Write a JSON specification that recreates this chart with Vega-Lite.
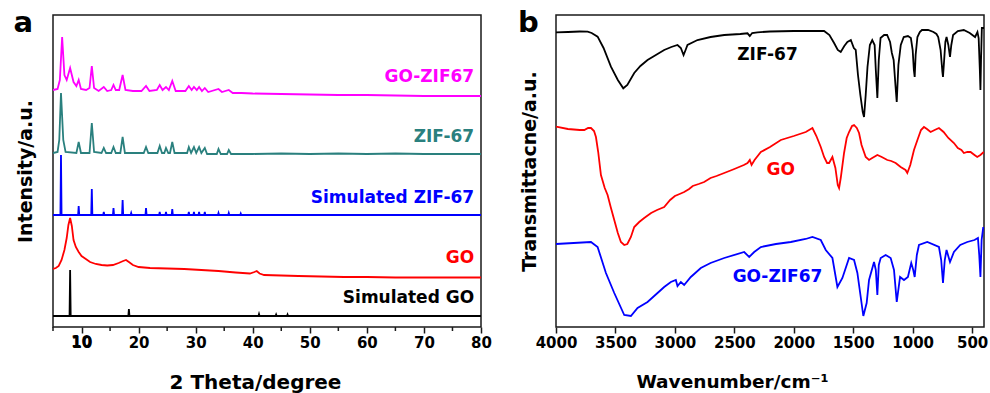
{
  "$schema": "https://vega.github.io/schema/vega-lite/v6.json",
  "background": "white",
  "padding": {"left": 12, "top": 8, "right": 0, "bottom": 0},
  "bounds": "flush",
  "spacing": 75,
  "resolve": {"scale": {"x": "independent", "y": "independent", "color": "independent"}},
  "config": {
    "view": {"stroke": "#1a1a1a", "strokeWidth": 1.5},
    "axis": {"grid": false, "domain": false, "labelFont": "DejaVu Sans", "labelFontWeight": "bold", "labelFontSize": 15, "labelColor": "#000", "titleFont": "DejaVu Sans", "titleFontWeight": "bold", "titleFontSize": 20, "titleColor": "#000", "tickColor": "#1a1a1a", "tickWidth": 1.5, "labelFlush": false, "labelOverlap": false},
    "text": {"font": "DejaVu Sans", "fontWeight": "bold"}
  },
  "datasets": {
    "xrd": [
      {"sample":"GO-ZIF67","t":5.0,"i":237},{"sample":"GO-ZIF67","t":5.8,"i":238},{"sample":"GO-ZIF67","t":6.2,"i":247},{"sample":"GO-ZIF67","t":6.6,"i":290},{"sample":"GO-ZIF67","t":7.0,"i":252},{"sample":"GO-ZIF67","t":7.4,"i":247},{"sample":"GO-ZIF67","t":8.0,"i":259},{"sample":"GO-ZIF67","t":8.6,"i":245},{"sample":"GO-ZIF67","t":9.1,"i":241},{"sample":"GO-ZIF67","t":9.5,"i":247},{"sample":"GO-ZIF67","t":9.9,"i":238},{"sample":"GO-ZIF67","t":10.8,"i":237},{"sample":"GO-ZIF67","t":11.4,"i":239},{"sample":"GO-ZIF67","t":11.8,"i":261},{"sample":"GO-ZIF67","t":12.2,"i":239},{"sample":"GO-ZIF67","t":13.0,"i":236},{"sample":"GO-ZIF67","t":13.9,"i":240},{"sample":"GO-ZIF67","t":14.5,"i":236},{"sample":"GO-ZIF67","t":15.2,"i":237},{"sample":"GO-ZIF67","t":15.6,"i":242},{"sample":"GO-ZIF67","t":16.0,"i":237},{"sample":"GO-ZIF67","t":16.6,"i":237},{"sample":"GO-ZIF67","t":17.2,"i":252},{"sample":"GO-ZIF67","t":17.7,"i":237},{"sample":"GO-ZIF67","t":19.0,"i":236},{"sample":"GO-ZIF67","t":20.5,"i":236},{"sample":"GO-ZIF67","t":21.3,"i":241},{"sample":"GO-ZIF67","t":21.9,"i":236},{"sample":"GO-ZIF67","t":23.2,"i":237},{"sample":"GO-ZIF67","t":23.7,"i":242},{"sample":"GO-ZIF67","t":24.2,"i":237},{"sample":"GO-ZIF67","t":24.8,"i":240},{"sample":"GO-ZIF67","t":25.3,"i":237},{"sample":"GO-ZIF67","t":25.9,"i":246},{"sample":"GO-ZIF67","t":26.5,"i":236},{"sample":"GO-ZIF67","t":28.2,"i":236},{"sample":"GO-ZIF67","t":28.8,"i":241},{"sample":"GO-ZIF67","t":29.3,"i":237},{"sample":"GO-ZIF67","t":29.7,"i":240},{"sample":"GO-ZIF67","t":30.2,"i":237},{"sample":"GO-ZIF67","t":30.6,"i":240},{"sample":"GO-ZIF67","t":31.1,"i":236},{"sample":"GO-ZIF67","t":31.6,"i":239},{"sample":"GO-ZIF67","t":32.2,"i":235},{"sample":"GO-ZIF67","t":34.0,"i":238},{"sample":"GO-ZIF67","t":34.6,"i":235},{"sample":"GO-ZIF67","t":35.8,"i":237},{"sample":"GO-ZIF67","t":36.5,"i":234},{"sample":"GO-ZIF67","t":38,"i":234},{"sample":"GO-ZIF67","t":40,"i":233.5},{"sample":"GO-ZIF67","t":45,"i":233},{"sample":"GO-ZIF67","t":50,"i":232.5},{"sample":"GO-ZIF67","t":55,"i":232},{"sample":"GO-ZIF67","t":60,"i":232},{"sample":"GO-ZIF67","t":65,"i":231.5},{"sample":"GO-ZIF67","t":70,"i":231},{"sample":"GO-ZIF67","t":75,"i":231},{"sample":"GO-ZIF67","t":80,"i":231},
      {"sample":"ZIF-67","t":5.0,"i":174},{"sample":"ZIF-67","t":5.8,"i":175},{"sample":"ZIF-67","t":6.1,"i":187},{"sample":"ZIF-67","t":6.4,"i":234},{"sample":"ZIF-67","t":6.8,"i":187},{"sample":"ZIF-67","t":7.2,"i":175},{"sample":"ZIF-67","t":9.1,"i":174},{"sample":"ZIF-67","t":9.5,"i":185},{"sample":"ZIF-67","t":9.9,"i":174},{"sample":"ZIF-67","t":11.4,"i":174},{"sample":"ZIF-67","t":11.8,"i":204},{"sample":"ZIF-67","t":12.2,"i":175},{"sample":"ZIF-67","t":13.5,"i":174},{"sample":"ZIF-67","t":13.9,"i":179},{"sample":"ZIF-67","t":14.3,"i":174},{"sample":"ZIF-67","t":15.2,"i":174},{"sample":"ZIF-67","t":15.6,"i":180},{"sample":"ZIF-67","t":16.0,"i":174},{"sample":"ZIF-67","t":16.8,"i":174},{"sample":"ZIF-67","t":17.2,"i":190},{"sample":"ZIF-67","t":17.6,"i":174},{"sample":"ZIF-67","t":20.9,"i":174},{"sample":"ZIF-67","t":21.3,"i":180},{"sample":"ZIF-67","t":21.7,"i":174},{"sample":"ZIF-67","t":23.3,"i":174},{"sample":"ZIF-67","t":23.7,"i":181},{"sample":"ZIF-67","t":24.1,"i":174},{"sample":"ZIF-67","t":24.5,"i":174},{"sample":"ZIF-67","t":24.8,"i":179},{"sample":"ZIF-67","t":25.2,"i":174},{"sample":"ZIF-67","t":25.5,"i":174},{"sample":"ZIF-67","t":25.9,"i":185},{"sample":"ZIF-67","t":26.3,"i":174},{"sample":"ZIF-67","t":28.5,"i":174},{"sample":"ZIF-67","t":28.8,"i":180},{"sample":"ZIF-67","t":29.2,"i":174},{"sample":"ZIF-67","t":29.7,"i":180},{"sample":"ZIF-67","t":30.1,"i":174},{"sample":"ZIF-67","t":30.6,"i":180},{"sample":"ZIF-67","t":31.0,"i":174},{"sample":"ZIF-67","t":31.6,"i":179},{"sample":"ZIF-67","t":32.0,"i":173},{"sample":"ZIF-67","t":33.7,"i":173},{"sample":"ZIF-67","t":34.0,"i":178},{"sample":"ZIF-67","t":34.4,"i":173},{"sample":"ZIF-67","t":35.5,"i":173},{"sample":"ZIF-67","t":35.8,"i":177},{"sample":"ZIF-67","t":36.2,"i":173},{"sample":"ZIF-67","t":40,"i":173},{"sample":"ZIF-67","t":45,"i":173.5},{"sample":"ZIF-67","t":50,"i":173},{"sample":"ZIF-67","t":55,"i":173.5},{"sample":"ZIF-67","t":60,"i":173},{"sample":"ZIF-67","t":65,"i":173.5},{"sample":"ZIF-67","t":70,"i":173},{"sample":"ZIF-67","t":80,"i":173},
      {"sample":"Simulated ZIF-67","t":5.0,"i":112},{"sample":"Simulated ZIF-67","t":6.3,"i":112},{"sample":"Simulated ZIF-67","t":6.4,"i":172},{"sample":"Simulated ZIF-67","t":6.5,"i":112},{"sample":"Simulated ZIF-67","t":9.4,"i":112},{"sample":"Simulated ZIF-67","t":9.5,"i":121},{"sample":"Simulated ZIF-67","t":9.6,"i":112},{"sample":"Simulated ZIF-67","t":11.7,"i":112},{"sample":"Simulated ZIF-67","t":11.8,"i":138},{"sample":"Simulated ZIF-67","t":11.9,"i":112},{"sample":"Simulated ZIF-67","t":13.8,"i":112},{"sample":"Simulated ZIF-67","t":13.9,"i":115},{"sample":"Simulated ZIF-67","t":14.0,"i":112},{"sample":"Simulated ZIF-67","t":15.5,"i":112},{"sample":"Simulated ZIF-67","t":15.6,"i":119},{"sample":"Simulated ZIF-67","t":15.7,"i":112},{"sample":"Simulated ZIF-67","t":17.1,"i":112},{"sample":"Simulated ZIF-67","t":17.2,"i":127},{"sample":"Simulated ZIF-67","t":17.3,"i":112},{"sample":"Simulated ZIF-67","t":18.6,"i":112},{"sample":"Simulated ZIF-67","t":18.7,"i":114},{"sample":"Simulated ZIF-67","t":18.8,"i":112},{"sample":"Simulated ZIF-67","t":21.2,"i":112},{"sample":"Simulated ZIF-67","t":21.3,"i":119},{"sample":"Simulated ZIF-67","t":21.4,"i":112},{"sample":"Simulated ZIF-67","t":23.6,"i":112},{"sample":"Simulated ZIF-67","t":23.7,"i":115},{"sample":"Simulated ZIF-67","t":23.8,"i":112},{"sample":"Simulated ZIF-67","t":24.7,"i":112},{"sample":"Simulated ZIF-67","t":24.8,"i":115},{"sample":"Simulated ZIF-67","t":24.9,"i":112},{"sample":"Simulated ZIF-67","t":25.8,"i":112},{"sample":"Simulated ZIF-67","t":25.9,"i":118},{"sample":"Simulated ZIF-67","t":26.0,"i":112},{"sample":"Simulated ZIF-67","t":28.7,"i":112},{"sample":"Simulated ZIF-67","t":28.8,"i":115},{"sample":"Simulated ZIF-67","t":28.9,"i":112},{"sample":"Simulated ZIF-67","t":29.6,"i":112},{"sample":"Simulated ZIF-67","t":29.7,"i":115},{"sample":"Simulated ZIF-67","t":29.8,"i":112},{"sample":"Simulated ZIF-67","t":30.5,"i":112},{"sample":"Simulated ZIF-67","t":30.6,"i":115},{"sample":"Simulated ZIF-67","t":30.7,"i":112},{"sample":"Simulated ZIF-67","t":31.5,"i":112},{"sample":"Simulated ZIF-67","t":31.6,"i":115},{"sample":"Simulated ZIF-67","t":31.7,"i":112},{"sample":"Simulated ZIF-67","t":33.9,"i":112},{"sample":"Simulated ZIF-67","t":34.0,"i":114},{"sample":"Simulated ZIF-67","t":34.1,"i":112},{"sample":"Simulated ZIF-67","t":35.7,"i":112},{"sample":"Simulated ZIF-67","t":35.8,"i":114},{"sample":"Simulated ZIF-67","t":35.9,"i":112},{"sample":"Simulated ZIF-67","t":37.8,"i":112},{"sample":"Simulated ZIF-67","t":37.9,"i":113.5},{"sample":"Simulated ZIF-67","t":38.0,"i":112},{"sample":"Simulated ZIF-67","t":80,"i":112},
      {"sample":"GO","t":5.0,"i":58},{"sample":"GO","t":5.5,"i":59},{"sample":"GO","t":6.0,"i":61},{"sample":"GO","t":6.5,"i":67},{"sample":"GO","t":7.0,"i":77},{"sample":"GO","t":7.4,"i":89},{"sample":"GO","t":7.7,"i":102},{"sample":"GO","t":8.0,"i":109},{"sample":"GO","t":8.3,"i":101},{"sample":"GO","t":8.6,"i":87},{"sample":"GO","t":9.0,"i":80},{"sample":"GO","t":9.5,"i":75},{"sample":"GO","t":10.0,"i":71},{"sample":"GO","t":10.5,"i":69},{"sample":"GO","t":11.5,"i":65},{"sample":"GO","t":12.5,"i":63},{"sample":"GO","t":13.5,"i":62},{"sample":"GO","t":14.5,"i":61.5},{"sample":"GO","t":15.5,"i":62},{"sample":"GO","t":16.5,"i":64},{"sample":"GO","t":17.3,"i":66},{"sample":"GO","t":17.8,"i":67},{"sample":"GO","t":18.3,"i":65},{"sample":"GO","t":19.0,"i":62},{"sample":"GO","t":20,"i":60},{"sample":"GO","t":22,"i":59},{"sample":"GO","t":25,"i":58.5},{"sample":"GO","t":28,"i":58},{"sample":"GO","t":31,"i":57},{"sample":"GO","t":34,"i":56},{"sample":"GO","t":37,"i":54.5},{"sample":"GO","t":39.5,"i":53.5},{"sample":"GO","t":40.3,"i":55},{"sample":"GO","t":40.7,"i":56},{"sample":"GO","t":41.2,"i":53.5},{"sample":"GO","t":42,"i":52},{"sample":"GO","t":45,"i":51.5},{"sample":"GO","t":48,"i":51},{"sample":"GO","t":52,"i":50.5},{"sample":"GO","t":56,"i":50},{"sample":"GO","t":60,"i":50},{"sample":"GO","t":65,"i":49.5},{"sample":"GO","t":70,"i":49.5},{"sample":"GO","t":80,"i":49.5},
      {"sample":"Simulated GO","t":5.0,"i":11},{"sample":"Simulated GO","t":7.9,"i":11},{"sample":"Simulated GO","t":8.0,"i":57},{"sample":"Simulated GO","t":8.1,"i":11},{"sample":"Simulated GO","t":18.2,"i":11},{"sample":"Simulated GO","t":18.3,"i":18},{"sample":"Simulated GO","t":18.4,"i":11},{"sample":"Simulated GO","t":41.0,"i":11},{"sample":"Simulated GO","t":41.1,"i":13},{"sample":"Simulated GO","t":41.2,"i":11},{"sample":"Simulated GO","t":44.0,"i":11},{"sample":"Simulated GO","t":44.1,"i":12.5},{"sample":"Simulated GO","t":44.2,"i":11},{"sample":"Simulated GO","t":46.0,"i":11},{"sample":"Simulated GO","t":46.1,"i":12.5},{"sample":"Simulated GO","t":46.2,"i":11},{"sample":"Simulated GO","t":80,"i":11}
    ],
    "minorTicks": [{"t":5},{"t":15},{"t":25},{"t":35},{"t":45},{"t":55},{"t":65},{"t":75}],
    "ftir": [
      {"spectrum":"ZIF-67","w":4000,"T":294.7},{"spectrum":"ZIF-67","w":3900,"T":295},{"spectrum":"ZIF-67","w":3800,"T":295.5},{"spectrum":"ZIF-67","w":3734,"T":295.3},{"spectrum":"ZIF-67","w":3700,"T":294},{"spectrum":"ZIF-67","w":3650,"T":290.3},{"spectrum":"ZIF-67","w":3600,"T":279},{"spectrum":"ZIF-67","w":3538,"T":260.3},{"spectrum":"ZIF-67","w":3480,"T":247},{"spectrum":"ZIF-67","w":3434,"T":238.7},{"spectrum":"ZIF-67","w":3400,"T":242},{"spectrum":"ZIF-67","w":3342,"T":254},{"spectrum":"ZIF-67","w":3290,"T":261},{"spectrum":"ZIF-67","w":3230,"T":267},{"spectrum":"ZIF-67","w":3160,"T":272},{"spectrum":"ZIF-67","w":3090,"T":277},{"spectrum":"ZIF-67","w":3030,"T":280},{"spectrum":"ZIF-67","w":2978,"T":282},{"spectrum":"ZIF-67","w":2950,"T":279},{"spectrum":"ZIF-67","w":2927,"T":272},{"spectrum":"ZIF-67","w":2910,"T":277},{"spectrum":"ZIF-67","w":2894,"T":282},{"spectrum":"ZIF-67","w":2810,"T":287},{"spectrum":"ZIF-67","w":2700,"T":290},{"spectrum":"ZIF-67","w":2585,"T":292},{"spectrum":"ZIF-67","w":2450,"T":293},{"spectrum":"ZIF-67","w":2389,"T":293.7},{"spectrum":"ZIF-67","w":2370,"T":291},{"spectrum":"ZIF-67","w":2350,"T":294},{"spectrum":"ZIF-67","w":2305,"T":294.7},{"spectrum":"ZIF-67","w":2200,"T":295.5},{"spectrum":"ZIF-67","w":2000,"T":296},{"spectrum":"ZIF-67","w":1850,"T":296},{"spectrum":"ZIF-67","w":1745,"T":296},{"spectrum":"ZIF-67","w":1700,"T":292},{"spectrum":"ZIF-67","w":1661,"T":284},{"spectrum":"ZIF-67","w":1630,"T":277},{"spectrum":"ZIF-67","w":1605,"T":275},{"spectrum":"ZIF-67","w":1575,"T":281},{"spectrum":"ZIF-67","w":1549,"T":285},{"spectrum":"ZIF-67","w":1520,"T":287},{"spectrum":"ZIF-67","w":1495,"T":279},{"spectrum":"ZIF-67","w":1479,"T":277},{"spectrum":"ZIF-67","w":1460,"T":252},{"spectrum":"ZIF-67","w":1440,"T":232},{"spectrum":"ZIF-67","w":1420,"T":215},{"spectrum":"ZIF-67","w":1409,"T":210},{"spectrum":"ZIF-67","w":1395,"T":232},{"spectrum":"ZIF-67","w":1380,"T":260},{"spectrum":"ZIF-67","w":1360,"T":282},{"spectrum":"ZIF-67","w":1340,"T":287},{"spectrum":"ZIF-67","w":1320,"T":282},{"spectrum":"ZIF-67","w":1310,"T":257},{"spectrum":"ZIF-67","w":1297,"T":229},{"spectrum":"ZIF-67","w":1285,"T":267},{"spectrum":"ZIF-67","w":1270,"T":289},{"spectrum":"ZIF-67","w":1240,"T":292},{"spectrum":"ZIF-67","w":1215,"T":292},{"spectrum":"ZIF-67","w":1190,"T":285},{"spectrum":"ZIF-67","w":1175,"T":274},{"spectrum":"ZIF-67","w":1160,"T":267},{"spectrum":"ZIF-67","w":1145,"T":242},{"spectrum":"ZIF-67","w":1134,"T":225},{"spectrum":"ZIF-67","w":1120,"T":262},{"spectrum":"ZIF-67","w":1100,"T":282},{"spectrum":"ZIF-67","w":1075,"T":290},{"spectrum":"ZIF-67","w":1040,"T":291},{"spectrum":"ZIF-67","w":1015,"T":289},{"spectrum":"ZIF-67","w":1000,"T":277},{"spectrum":"ZIF-67","w":990,"T":257},{"spectrum":"ZIF-67","w":983,"T":250},{"spectrum":"ZIF-67","w":975,"T":272},{"spectrum":"ZIF-67","w":960,"T":290},{"spectrum":"ZIF-67","w":940,"T":295},{"spectrum":"ZIF-67","w":922,"T":297},{"spectrum":"ZIF-67","w":870,"T":297},{"spectrum":"ZIF-67","w":825,"T":295},{"spectrum":"ZIF-67","w":800,"T":293},{"spectrum":"ZIF-67","w":785,"T":290},{"spectrum":"ZIF-67","w":765,"T":277},{"spectrum":"ZIF-67","w":750,"T":255},{"spectrum":"ZIF-67","w":745,"T":250},{"spectrum":"ZIF-67","w":738,"T":262},{"spectrum":"ZIF-67","w":725,"T":285},{"spectrum":"ZIF-67","w":715,"T":290},{"spectrum":"ZIF-67","w":700,"T":282},{"spectrum":"ZIF-67","w":686,"T":270},{"spectrum":"ZIF-67","w":675,"T":282},{"spectrum":"ZIF-67","w":660,"T":292},{"spectrum":"ZIF-67","w":620,"T":296},{"spectrum":"ZIF-67","w":570,"T":297},{"spectrum":"ZIF-67","w":520,"T":294},{"spectrum":"ZIF-67","w":475,"T":290},{"spectrum":"ZIF-67","w":455,"T":295},{"spectrum":"ZIF-67","w":445,"T":289},{"spectrum":"ZIF-67","w":435,"T":257},{"spectrum":"ZIF-67","w":430,"T":237},{"spectrum":"ZIF-67","w":425,"T":267},{"spectrum":"ZIF-67","w":418,"T":299},{"spectrum":"ZIF-67","w":405,"T":299},{"spectrum":"ZIF-67","w":400,"T":299},
      {"spectrum":"GO","w":4000,"T":200.3},{"spectrum":"GO","w":3900,"T":198},{"spectrum":"GO","w":3800,"T":197},{"spectrum":"GO","w":3762,"T":197},{"spectrum":"GO","w":3730,"T":199},{"spectrum":"GO","w":3706,"T":199},{"spectrum":"GO","w":3680,"T":196},{"spectrum":"GO","w":3664,"T":190},{"spectrum":"GO","w":3645,"T":175},{"spectrum":"GO","w":3622,"T":152},{"spectrum":"GO","w":3590,"T":139},{"spectrum":"GO","w":3566,"T":132},{"spectrum":"GO","w":3540,"T":120},{"spectrum":"GO","w":3510,"T":107},{"spectrum":"GO","w":3480,"T":94},{"spectrum":"GO","w":3454,"T":85},{"spectrum":"GO","w":3426,"T":82},{"spectrum":"GO","w":3400,"T":83},{"spectrum":"GO","w":3370,"T":90},{"spectrum":"GO","w":3342,"T":100},{"spectrum":"GO","w":3300,"T":105},{"spectrum":"GO","w":3258,"T":109},{"spectrum":"GO","w":3200,"T":114},{"spectrum":"GO","w":3150,"T":117},{"spectrum":"GO","w":3090,"T":120},{"spectrum":"GO","w":3040,"T":127},{"spectrum":"GO","w":3000,"T":131},{"spectrum":"GO","w":2960,"T":133},{"spectrum":"GO","w":2922,"T":135},{"spectrum":"GO","w":2880,"T":138},{"spectrum":"GO","w":2850,"T":141},{"spectrum":"GO","w":2800,"T":143},{"spectrum":"GO","w":2754,"T":145},{"spectrum":"GO","w":2700,"T":149},{"spectrum":"GO","w":2650,"T":151},{"spectrum":"GO","w":2585,"T":154},{"spectrum":"GO","w":2500,"T":158},{"spectrum":"GO","w":2420,"T":162},{"spectrum":"GO","w":2389,"T":164},{"spectrum":"GO","w":2370,"T":167},{"spectrum":"GO","w":2355,"T":162},{"spectrum":"GO","w":2330,"T":167},{"spectrum":"GO","w":2277,"T":175},{"spectrum":"GO","w":2200,"T":180},{"spectrum":"GO","w":2109,"T":187},{"spectrum":"GO","w":2000,"T":191},{"spectrum":"GO","w":1899,"T":195},{"spectrum":"GO","w":1843,"T":199},{"spectrum":"GO","w":1810,"T":191},{"spectrum":"GO","w":1773,"T":180},{"spectrum":"GO","w":1745,"T":170},{"spectrum":"GO","w":1720,"T":164},{"spectrum":"GO","w":1703,"T":164},{"spectrum":"GO","w":1675,"T":170},{"spectrum":"GO","w":1650,"T":159},{"spectrum":"GO","w":1630,"T":142},{"spectrum":"GO","w":1619,"T":139},{"spectrum":"GO","w":1605,"T":149},{"spectrum":"GO","w":1577,"T":174},{"spectrum":"GO","w":1555,"T":189},{"spectrum":"GO","w":1535,"T":195},{"spectrum":"GO","w":1510,"T":201},{"spectrum":"GO","w":1493,"T":202},{"spectrum":"GO","w":1470,"T":199},{"spectrum":"GO","w":1451,"T":194},{"spectrum":"GO","w":1430,"T":182},{"spectrum":"GO","w":1395,"T":170},{"spectrum":"GO","w":1367,"T":167},{"spectrum":"GO","w":1340,"T":169},{"spectrum":"GO","w":1297,"T":172},{"spectrum":"GO","w":1260,"T":170},{"spectrum":"GO","w":1213,"T":167},{"spectrum":"GO","w":1180,"T":166},{"spectrum":"GO","w":1143,"T":164},{"spectrum":"GO","w":1101,"T":160},{"spectrum":"GO","w":1060,"T":157},{"spectrum":"GO","w":1045,"T":154},{"spectrum":"GO","w":1020,"T":162},{"spectrum":"GO","w":989,"T":177},{"spectrum":"GO","w":960,"T":187},{"spectrum":"GO","w":930,"T":197},{"spectrum":"GO","w":905,"T":200},{"spectrum":"GO","w":880,"T":198},{"spectrum":"GO","w":849,"T":195},{"spectrum":"GO","w":815,"T":197},{"spectrum":"GO","w":779,"T":199},{"spectrum":"GO","w":740,"T":195},{"spectrum":"GO","w":700,"T":189},{"spectrum":"GO","w":653,"T":184},{"spectrum":"GO","w":620,"T":179},{"spectrum":"GO","w":590,"T":177},{"spectrum":"GO","w":569,"T":174},{"spectrum":"GO","w":540,"T":175},{"spectrum":"GO","w":513,"T":175},{"spectrum":"GO","w":480,"T":172},{"spectrum":"GO","w":457,"T":170},{"spectrum":"GO","w":430,"T":172},{"spectrum":"GO","w":402,"T":175},
      {"spectrum":"GO-ZIF67","w":4000,"T":83},{"spectrum":"GO-ZIF67","w":3706,"T":85},{"spectrum":"GO-ZIF67","w":3650,"T":80},{"spectrum":"GO-ZIF67","w":3580,"T":54},{"spectrum":"GO-ZIF67","w":3510,"T":34},{"spectrum":"GO-ZIF67","w":3426,"T":12},{"spectrum":"GO-ZIF67","w":3370,"T":11},{"spectrum":"GO-ZIF67","w":3314,"T":19},{"spectrum":"GO-ZIF67","w":3230,"T":25},{"spectrum":"GO-ZIF67","w":3146,"T":34},{"spectrum":"GO-ZIF67","w":3090,"T":40},{"spectrum":"GO-ZIF67","w":3034,"T":45},{"spectrum":"GO-ZIF67","w":2992,"T":47},{"spectrum":"GO-ZIF67","w":2978,"T":41},{"spectrum":"GO-ZIF67","w":2950,"T":45},{"spectrum":"GO-ZIF67","w":2922,"T":42},{"spectrum":"GO-ZIF67","w":2866,"T":50},{"spectrum":"GO-ZIF67","w":2782,"T":59},{"spectrum":"GO-ZIF67","w":2700,"T":64},{"spectrum":"GO-ZIF67","w":2585,"T":69},{"spectrum":"GO-ZIF67","w":2417,"T":75},{"spectrum":"GO-ZIF67","w":2375,"T":70},{"spectrum":"GO-ZIF67","w":2333,"T":75},{"spectrum":"GO-ZIF67","w":2277,"T":80},{"spectrum":"GO-ZIF67","w":2150,"T":83},{"spectrum":"GO-ZIF67","w":2025,"T":85},{"spectrum":"GO-ZIF67","w":1900,"T":88},{"spectrum":"GO-ZIF67","w":1843,"T":90},{"spectrum":"GO-ZIF67","w":1773,"T":87},{"spectrum":"GO-ZIF67","w":1731,"T":77},{"spectrum":"GO-ZIF67","w":1675,"T":69},{"spectrum":"GO-ZIF67","w":1633,"T":40},{"spectrum":"GO-ZIF67","w":1591,"T":49},{"spectrum":"GO-ZIF67","w":1535,"T":69},{"spectrum":"GO-ZIF67","w":1493,"T":67},{"spectrum":"GO-ZIF67","w":1465,"T":54},{"spectrum":"GO-ZIF67","w":1437,"T":30},{"spectrum":"GO-ZIF67","w":1415,"T":11},{"spectrum":"GO-ZIF67","w":1387,"T":24},{"spectrum":"GO-ZIF67","w":1367,"T":47},{"spectrum":"GO-ZIF67","w":1325,"T":65},{"spectrum":"GO-ZIF67","w":1310,"T":57},{"spectrum":"GO-ZIF67","w":1297,"T":32},{"spectrum":"GO-ZIF67","w":1285,"T":62},{"spectrum":"GO-ZIF67","w":1269,"T":69},{"spectrum":"GO-ZIF67","w":1227,"T":72},{"spectrum":"GO-ZIF67","w":1185,"T":69},{"spectrum":"GO-ZIF67","w":1157,"T":57},{"spectrum":"GO-ZIF67","w":1134,"T":25},{"spectrum":"GO-ZIF67","w":1106,"T":50},{"spectrum":"GO-ZIF67","w":1073,"T":47},{"spectrum":"GO-ZIF67","w":1040,"T":50},{"spectrum":"GO-ZIF67","w":1012,"T":64},{"spectrum":"GO-ZIF67","w":995,"T":57},{"spectrum":"GO-ZIF67","w":983,"T":50},{"spectrum":"GO-ZIF67","w":965,"T":72},{"spectrum":"GO-ZIF67","w":947,"T":82},{"spectrum":"GO-ZIF67","w":877,"T":85},{"spectrum":"GO-ZIF67","w":779,"T":80},{"spectrum":"GO-ZIF67","w":760,"T":67},{"spectrum":"GO-ZIF67","w":745,"T":44},{"spectrum":"GO-ZIF67","w":730,"T":67},{"spectrum":"GO-ZIF67","w":715,"T":77},{"spectrum":"GO-ZIF67","w":686,"T":65},{"spectrum":"GO-ZIF67","w":653,"T":75},{"spectrum":"GO-ZIF67","w":600,"T":82},{"spectrum":"GO-ZIF67","w":541,"T":85},{"spectrum":"GO-ZIF67","w":480,"T":87},{"spectrum":"GO-ZIF67","w":451,"T":89},{"spectrum":"GO-ZIF67","w":440,"T":72},{"spectrum":"GO-ZIF67","w":430,"T":50},{"spectrum":"GO-ZIF67","w":420,"T":87},{"spectrum":"GO-ZIF67","w":407,"T":99},{"spectrum":"GO-ZIF67","w":400,"T":99}
    ]
  },
  "hconcat": [
    {
      "width": 428,
      "height": 312,
      "layer": [
        {
          "data": {"name": "xrd"},
          "mark": {"type": "line", "strokeWidth": 1.8, "clip": true},
          "encoding": {
            "x": {"field": "t", "type": "quantitative", "scale": {"domain": [5, 80], "nice": false, "zero": false},
                  "axis": {"title": "2 Theta/degree", "format": "d", "labelOverlap": false, "labelFlush": false, "labelBound": false, "labelSeparation": 0, "values": [10,20,30,40,50,60,70,80], "tickSize": 6, "labelPadding": 2, "titlePadding": 22, "titleX": 202}},
            "y": {"field": "i", "type": "quantitative", "scale": {"domain": [0, 312], "nice": false, "zero": false},
                  "axis": {"title": "Intensity/a.u.", "labels": false, "ticks": false, "titlePadding": 18, "titleFontSize": 19}},
            "color": {"field": "sample", "type": "nominal", "legend": null,
                      "scale": {"domain": ["GO-ZIF67", "ZIF-67", "Simulated ZIF-67", "GO", "Simulated GO"], "range": ["#FF00FF", "#2A807E", "#0000FF", "#FF0000", "#000000"]}},
            "detail": {"field": "sample"}
          }
        },
        {"data": {"name": "minorTicks"}, "mark": {"type": "rule", "color": "#1a1a1a", "strokeWidth": 1.5}, "encoding": {"x": {"field": "t", "type": "quantitative"}, "y": {"datum": 0}, "y2": {"datum": -4}}},
        {"data": {"values": [{}]}, "mark": {"type": "text", "align": "center", "baseline": "top", "fontSize": 15, "color": "#000000"}, "encoding": {"x": {"datum": 10}, "y": {"datum": -8}, "text": {"value": "10"}}},
        {"data": {"values": [{}]}, "mark": {"type": "text", "align": "right", "baseline": "middle", "fontSize": 17, "color": "#FF00FF"}, "encoding": {"x": {"datum": 78.8}, "y": {"datum": 250}, "text": {"value": "GO-ZIF67"}}},
        {"data": {"values": [{}]}, "mark": {"type": "text", "align": "right", "baseline": "middle", "fontSize": 17, "color": "#2A807E"}, "encoding": {"x": {"datum": 78.8}, "y": {"datum": 190}, "text": {"value": "ZIF-67"}}},
        {"data": {"values": [{}]}, "mark": {"type": "text", "align": "right", "baseline": "middle", "fontSize": 17, "color": "#0000FF"}, "encoding": {"x": {"datum": 78.8}, "y": {"datum": 129}, "text": {"value": "Simulated ZIF-67"}}},
        {"data": {"values": [{}]}, "mark": {"type": "text", "align": "right", "baseline": "middle", "fontSize": 17, "color": "#FF0000"}, "encoding": {"x": {"datum": 78.8}, "y": {"datum": 69}, "text": {"value": "GO"}}},
        {"data": {"values": [{}]}, "mark": {"type": "text", "align": "right", "baseline": "middle", "fontSize": 17, "color": "#000000"}, "encoding": {"x": {"datum": 78.8}, "y": {"datum": 29}, "text": {"value": "Simulated GO"}}},
        {"data": {"values": [{}]}, "mark": {"type": "text", "align": "left", "baseline": "alphabetic", "fontSize": 29, "color": "#000000"}, "encoding": {"x": {"datum": -1.9}, "y": {"datum": 295}, "text": {"value": "a"}}}
      ]
    },
    {
      "width": 428,
      "height": 312,
      "layer": [
        {
          "data": {"name": "ftir"},
          "mark": {"type": "line", "strokeWidth": 1.8, "clip": true},
          "encoding": {
            "x": {"field": "w", "type": "quantitative", "scale": {"domain": [400, 4000], "reverse": true, "nice": false, "zero": false},
                  "axis": {"title": "Wavenumber/cm⁻¹", "titleFontSize": 18.5, "format": "d", "labelOverlap": false, "values": [4000,3750,3500,3250,3000,2750,2500,2250,2000,1750,1500,1250,1000,750,500], "labelExpr": "(datum.value % 500 == 0) ? format(datum.value, 'd') : ''", "tickSize": {"condition": {"test": "datum.value % 500 == 0", "value": 6}, "value": 4}, "labelPadding": 2, "titlePadding": 22, "titleX": 176}},
            "y": {"field": "T", "type": "quantitative", "scale": {"domain": [0, 312], "nice": false, "zero": false},
                  "axis": {"title": "Transmittacne/a.u.", "labels": false, "ticks": false, "titlePadding": 17, "titleFontSize": 19}},
            "color": {"field": "spectrum", "type": "nominal", "legend": null,
                      "scale": {"domain": ["ZIF-67", "GO", "GO-ZIF67"], "range": ["#000000", "#FF0000", "#0000FF"]}},
            "detail": {"field": "spectrum"}
          }
        },
        {"data": {"values": [{}]}, "mark": {"type": "text", "align": "center", "baseline": "middle", "fontSize": 17, "color": "#000000"}, "encoding": {"x": {"datum": 2221}, "y": {"datum": 272}, "text": {"value": "ZIF-67"}}},
        {"data": {"values": [{}]}, "mark": {"type": "text", "align": "center", "baseline": "middle", "fontSize": 17, "color": "#FF0000"}, "encoding": {"x": {"datum": 2109}, "y": {"datum": 157}, "text": {"value": "GO"}}},
        {"data": {"values": [{}]}, "mark": {"type": "text", "align": "center", "baseline": "middle", "fontSize": 17, "color": "#0000FF"}, "encoding": {"x": {"datum": 2137}, "y": {"datum": 50}, "text": {"value": "GO-ZIF67"}}},
        {"data": {"values": [{}]}, "mark": {"type": "text", "align": "left", "baseline": "alphabetic", "fontSize": 29, "color": "#000000"}, "encoding": {"x": {"datum": 4319}, "y": {"datum": 295}, "text": {"value": "b"}}}
      ]
    }
  ]
}
